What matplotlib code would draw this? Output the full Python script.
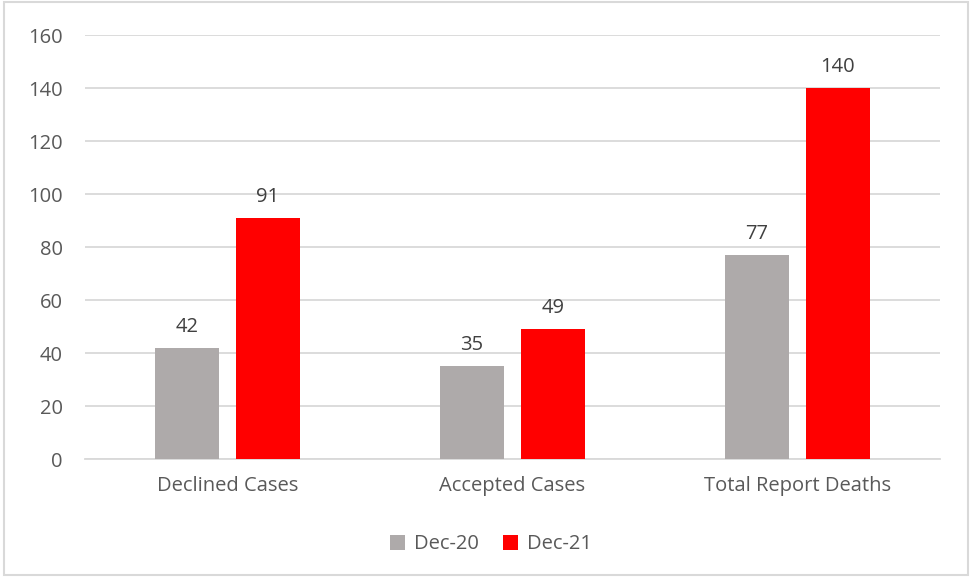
import numpy as np
import matplotlib
matplotlib.use("Agg")
import matplotlib.pyplot as plt
from matplotlib.patches import Rectangle

categories = ["Declined Cases", "Accepted Cases", "Total Report Deaths"]
dec20 = [42, 35, 77]
dec21 = [91, 49, 140]
series_names = ["Dec-20", "Dec-21"]

plt.rcParams["font.family"] = ["Open Sans", "DejaVu Sans"]
text_color = "#595959"
grid_color = "#d9d9d9"
fs = 14.5

fig = plt.figure(figsize=(9.72, 5.77), dpi=100)
ax = fig.add_axes([0.0874, 0.2045, 0.8796, 0.7348])

x = np.arange(len(categories))
w = 0.2246
off = 0.1423
b1 = ax.bar(x - off, dec20, w, color="#aeaaaa", label=series_names[0], zorder=3)
b2 = ax.bar(x + off, dec21, w, color="#ff0000", label=series_names[1], zorder=3)

for bars in (b1, b2):
    for r in bars:
        ax.annotate(f"{int(r.get_height())}", (r.get_x() + r.get_width() / 2, r.get_height()),
                    xytext=(0, 8), textcoords="offset points", ha="center", va="bottom",
                    fontsize=fs, color="#404040")

ax.set_xlim(-0.5, 2.5)
ax.set_ylim(0, 160)
ax.set_yticks(range(0, 161, 20))
ax.set_xticks(x)
ax.set_xticklabels(categories)
ax.yaxis.grid(True, color=grid_color, linewidth=1.3, zorder=0)
ax.set_axisbelow(True)
for s in ["top", "right", "left"]:
    ax.spines[s].set_visible(False)
ax.spines["bottom"].set_color(grid_color)
ax.spines["bottom"].set_linewidth(1.3)
ax.tick_params(axis="both", length=0, labelsize=fs, colors=text_color)
ax.tick_params(axis="y", pad=16)
ax.tick_params(axis="x", pad=12)

fig.legend(loc="lower center", bbox_to_anchor=(0.505, 0.008), ncol=2, frameon=False,
           fontsize=fs, labelcolor=text_color, handlelength=0.75, handleheight=0.75,
           handletextpad=0.45, columnspacing=1.2)

fig.patches.append(Rectangle((0.004, 0.004), 0.992, 0.992, transform=fig.transFigure,
                             fill=False, edgecolor=grid_color, linewidth=1.5))

fig.savefig("out.png", dpi=100)
